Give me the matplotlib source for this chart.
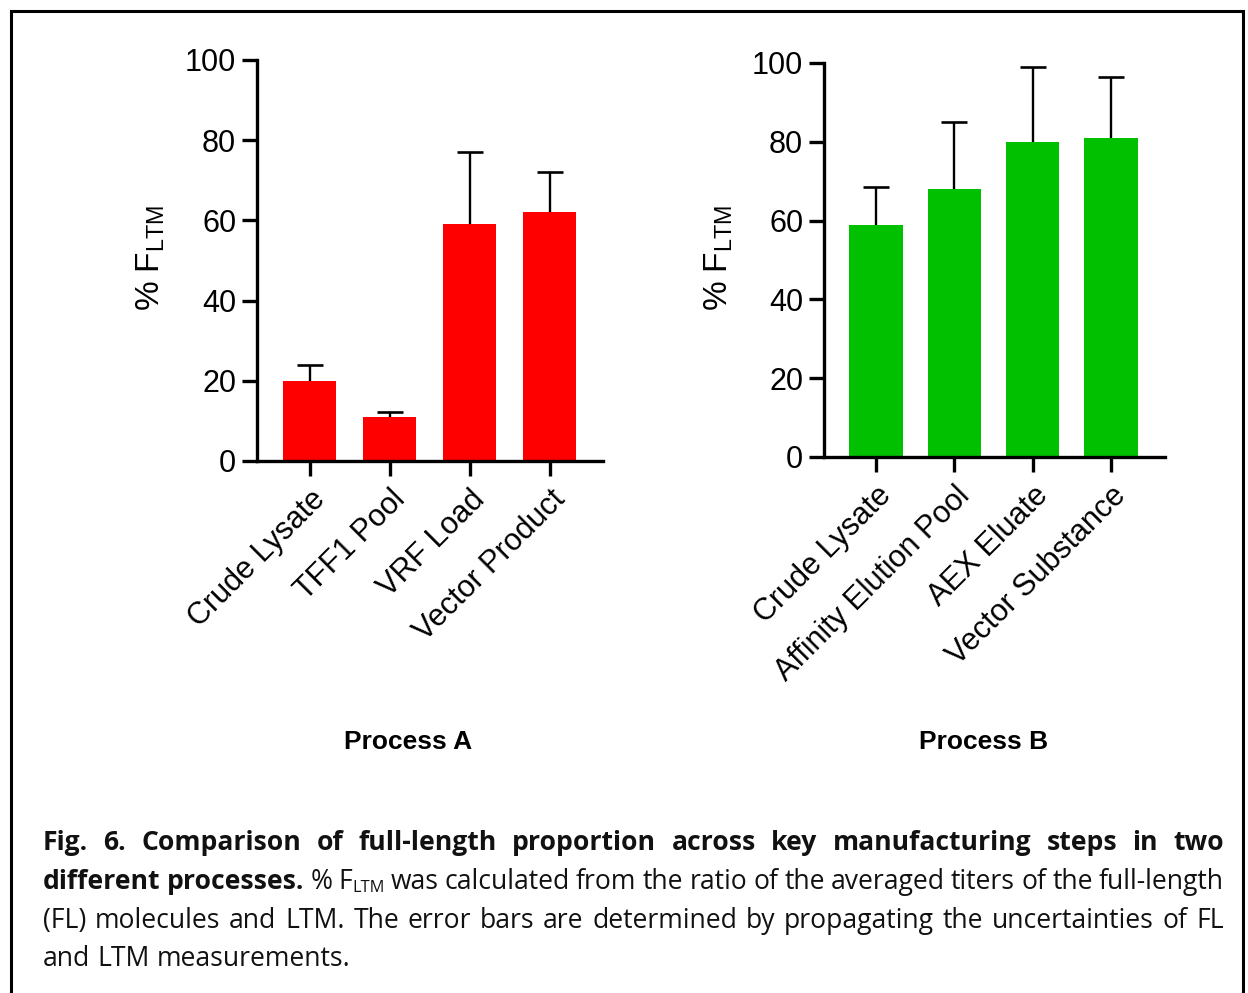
import matplotlib
matplotlib.use("Agg")
import matplotlib.pyplot as plt
from matplotlib.patches import Rectangle

# ---------------- data ----------------
cats_a = ["Crude Lysate", "TFF1 Pool", "VRF Load", "Vector Product"]
vals_a = [20.0, 11.0, 59.0, 62.0]
err_a = [4.0, 1.2, 18.0, 10.0]

cats_b = ["Crude Lysate", "Affinity Elution Pool", "AEX Eluate", "Vector Substance"]
vals_b = [59.0, 68.0, 80.0, 81.0]
err_b = [9.5, 17.0, 19.0, 15.5]

yticks = [0, 20, 40, 60, 80, 100]
title_a = "Process A"
title_b = "Process B"

W, H = 1248, 993
fig = plt.figure(figsize=(W / 100, H / 100), dpi=100)
plt.rcParams['font.family'] = ['Liberation Sans', 'DejaVu Sans']
plt.rcParams['mathtext.fontset'] = 'custom'
plt.rcParams['mathtext.rm'] = 'Liberation Sans'


def px_axes(x0, x1, ybot, ytop):
    return fig.add_axes([x0 / W, 1 - ybot / H, (x1 - x0) / W, (ybot - ytop) / H])


def draw_panel(ax, cats, vals, errs, color, xlim, width, capw):
    x = list(range(len(cats)))
    ax.bar(x, vals, width=width, color=color, edgecolor='none', zorder=2)
    tops = [v + e for v, e in zip(vals, errs)]
    ax.vlines(x, vals, tops, color='black', lw=1.7, zorder=1)
    ax.hlines(tops, [xi - capw / 2 for xi in x], [xi + capw / 2 for xi in x],
              color='black', lw=1.9, zorder=1)
    ax.set_xlim(*xlim)
    ax.set_ylim(0, 100)
    ax.set_yticks(yticks)
    ax.set_xticks(x)
    ax.set_xticklabels(cats, rotation=45, ha='right', rotation_mode='anchor', fontsize=22)
    ax.tick_params(axis='y', labelsize=22, length=11, width=2.4, direction='out', pad=4)
    ax.tick_params(axis='x', length=11, width=2.4, direction='out', pad=6)
    for s in ['top', 'right']:
        ax.spines[s].set_visible(False)
    for s in ['left', 'bottom']:
        ax.spines[s].set_linewidth(2.4)


ax1 = px_axes(257, 603, 461, 60)
draw_panel(ax1, cats_a, vals_a, err_a, '#ff0000', (-0.66, 3.665), 0.66, 0.33)
ax2 = px_axes(824, 1165, 457, 63)
draw_panel(ax2, cats_b, vals_b, err_b, '#00c000', (-0.664, 3.69), 0.68, 0.33)

fig.text(151 / W, 1 - 258 / H, r"% F$_{\mathregular{LTM}}$", rotation=90,
         ha='center', va='center', fontsize=24)
fig.text(719 / W, 1 - 258 / H, r"% F$_{\mathregular{LTM}}$", rotation=90,
         ha='center', va='center', fontsize=24)

fig.text(408 / W, 1 - 742 / H, title_a, ha='center', va='center', fontsize=19, fontweight='bold')
fig.text(984 / W, 1 - 742 / H, title_b, ha='center', va='center', fontsize=19, fontweight='bold')

# frame
fig.add_artist(Rectangle((11 / W, -0.05), (1243 - 11) / W, 1.05 - 11 / H,
                         transform=fig.transFigure, fill=False, lw=2.2, ec='black'))

# ---------------- caption (justified) ----------------
cap_font = ['Open Sans', 'DejaVu Sans']
lines = [
    ([[(w, 'bold', 1.0, 0)] for w in
      "Fig. 6. Comparison of full-length proportion across key manufacturing steps in two".split()], True),
]
line2 = [[("different", 'bold', 1.0, 0)], [("processes.", 'bold', 1.0, 0)], [("%", 'normal', 1.0, 0)],
         [("F", 'normal', 1.0, 0), ("LTM", 'normal', 0.62, -0.12)]]
line2 += [[(w, 'normal', 1.0, 0)] for w in
          "was calculated from the ratio of the averaged titers of the full-length".split()]
lines.append((line2, True))
lines.append(([[(w, 'normal', 1.0, 0)] for w in
               "(FL) molecules and LTM. The error bars are determined by propagating the uncertainties of FL".split()], True))
lines.append(([[(w, 'normal', 1.0, 0)] for w in "and LTM measurements.".split()], False))

fig.canvas.draw()
renderer = fig.canvas.get_renderer()
x_left, x_right = 43, 1224
y_base = [850, 889, 928, 966]


def seg_width(txt, weight, size):
    t = fig.text(0, 0, txt, fontsize=size, fontweight=weight, family=cap_font)
    w = t.get_window_extent(renderer).width
    t.remove()
    return w


# choose size so that the last (unjustified) line matches its width in the picture
ref_size = 16.0
natural = seg_width("and LTM measurements.", 'normal', ref_size)
cap_size = ref_size * 307.0 / natural
# make sure every justified line still fits
for words, justify in lines:
    if not justify:
        continue
    tot = sum(seg_width(s, wg, cap_size * sc) for word in words for (s, wg, sc, dy) in word)
    min_need = tot + (len(words) - 1) * 0.18 * cap_size * 100 / 72
    if min_need > (x_right - x_left):
        cap_size *= (x_right - x_left) / min_need

space_px = seg_width("a a", 'normal', cap_size) - 2 * seg_width("a", 'normal', cap_size)

for (words, justify), yb in zip(lines, y_base):
    widths = [[seg_width(s, wgt, cap_size * sc) for (s, wgt, sc, dy) in word] for word in words]
    total = sum(sum(w) for w in widths)
    n = len(words)
    gap = (x_right - x_left - total) / (n - 1) if (justify and n > 1) else space_px
    x = x_left
    for word, ws in zip(words, widths):
        for (s, wgt, sc, dy), w in zip(word, ws):
            fig.text(x / W, 1 - yb / H + dy * cap_size / 72 * 100 / H, s,
                     fontsize=cap_size * sc, fontweight=wgt, family=cap_font,
                     ha='left', va='baseline', color='#111111')
            x += w
        x += gap

fig.savefig("out.png", dpi=100)
